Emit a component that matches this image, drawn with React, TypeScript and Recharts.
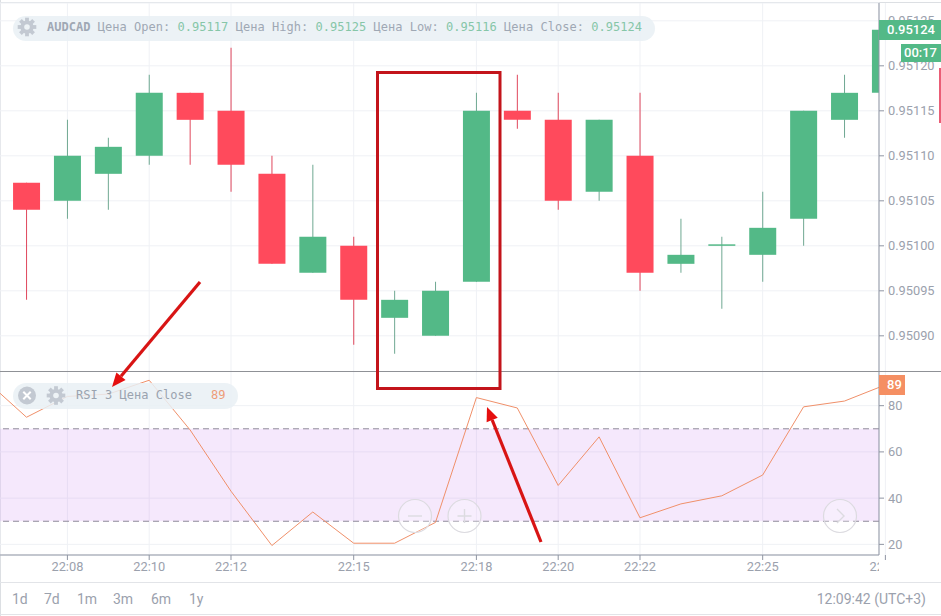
import React from "react";
import { ComposedChart, Bar, Line, XAxis, YAxis, CartesianGrid, ReferenceArea, ReferenceLine, Cell } from "recharts";

const candleIndex = [0, 1, 2, 3, 4, 5, 6, 7, 8, 9, 10, 11, 12, 13, 14, 15, 16, 17, 18, 19, 20, 21];
const opens = [0.95107, 0.95105, 0.95108, 0.9511, 0.95117, 0.95115, 0.95108, 0.95097, 0.951, 0.95092, 0.9509, 0.95096, 0.95115, 0.95114, 0.95106, 0.9511, 0.95098, 0.951, 0.95099, 0.95103, 0.95114, 0.95117];
const closes = [0.95104, 0.9511, 0.95111, 0.95117, 0.95114, 0.95109, 0.95098, 0.95101, 0.95094, 0.95094, 0.95095, 0.95115, 0.95114, 0.95105, 0.95114, 0.95097, 0.95099, 0.951, 0.95102, 0.95115, 0.95117, 0.95124];
const highs = [0.95107, 0.95114, 0.95112, 0.95119, 0.95117, 0.95122, 0.9511, 0.95109, 0.95101, 0.95095, 0.95096, 0.95117, 0.95119, 0.95117, 0.95114, 0.95117, 0.95103, 0.95101, 0.95106, 0.95115, 0.95119, 0.95125];
const lows = [0.95094, 0.95103, 0.95104, 0.95109, 0.95109, 0.95106, 0.95098, 0.95097, 0.95089, 0.95088, 0.9509, 0.95096, 0.95113, 0.95104, 0.95105, 0.95095, 0.95097, 0.95093, 0.95096, 0.951, 0.95112, 0.95117];

const rsiIndex = [-1, 0, 1, 2, 3, 4, 5, 6, 7, 8, 9, 10, 11, 12, 13, 14, 15, 16, 17, 18, 19, 20, 21];
const rsiValues = [91, 75, 84, 85, 91, 69.5, 43, 19.5, 34, 20.5, 20.5, 29.5, 83.5, 79, 45.5, 66.5, 31.5, 37.5, 41, 50, 79.5, 82, 89];

const timeTicks = [1, 3, 5, 8, 11, 13, 15, 18, 21];
const timeLabels = ["22:08", "22:10", "22:12", "22:15", "22:18", "22:20", "22:22", "22:25", "22:28"];
const priceTicks = [0.9509, 0.95095, 0.951, 0.95105, 0.9511, 0.95115, 0.9512, 0.95125];
const rsiTicks = [20, 40, 60, 80];
const periods = ["1d", "7d", "1m", "3m", "6m", "1y"];
const periodLeft = [12, 44, 77, 113, 151, 189];

const GREEN = "#53b987";
const RED = "#ff4a5c";
const GRID = "#eff1f5";
const AXIS = "#8f95a3";
const LABEL = "#9ba1ad";
const ORANGE = "#f0906a";
const FONT = "Roboto, sans-serif";
const MONO = "'DejaVu Sans Mono', monospace";
const X_DOMAIN: [number, number] = [-0.648, 20.844];

const candleData = candleIndex.map((i, k) => ({
  i,
  wick: [lows[k], highs[k]],
  body: [Math.min(opens[k], closes[k]), Math.max(opens[k], closes[k])],
  up: closes[k] >= opens[k],
}));
const rsiData = rsiIndex.map((i, k) => ({ i, rsi: rsiValues[k] }));

const TimeTick = (props: any) => {
  const { x, y, payload } = props;
  const label = timeLabels[timeTicks.indexOf(payload.value)];
  return (
    <g>
      <clipPath id={`tick-clip-${payload.value}`}>
        <rect x={0} y={0} width={879} height={616} />
      </clipPath>
      <text x={x} y={y + 9} textAnchor="middle" fill={LABEL} fontSize={12.8} fontFamily={FONT} clipPath={`url(#tick-clip-${payload.value})`}>
        {label}
      </text>
    </g>
  );
};

const Gear = ({ x, y }: { x: number; y: number }) => (
  <g transform={`translate(${x} ${y})`}>
    {[0, 45, 90, 135].map((a) => (
      <rect key={a} x={-1.9} y={-9.3} width={3.8} height={18.6} fill="#c3c9d2" transform={`rotate(${a})`} />
    ))}
    <circle r={6.6} fill="#c3c9d2" />
    <circle r={2.8} fill="#eef3f6" />
  </g>
);

const Arrow = ({ x1, y1, x2, y2 }: { x1: number; y1: number; x2: number; y2: number }) => {
  const a = Math.atan2(y2 - y1, x2 - x1);
  const len = 14;
  const w = 6;
  const bx = x2 - len * Math.cos(a);
  const by = y2 - len * Math.sin(a);
  const px = -Math.sin(a) * w;
  const py = Math.cos(a) * w;
  return (
    <g>
      <line x1={x1} y1={y1} x2={bx} y2={by} stroke="#d81414" strokeWidth={3.2} />
      <polygon points={`${x2},${y2} ${bx + px},${by + py} ${bx - px},${by - py}`} fill="#e50f0f" />
    </g>
  );
};

const monoBase: React.CSSProperties = { fontFamily: MONO, fontSize: 12, whiteSpace: "pre", letterSpacing: 0.03 };

export default function App() {
  return (
    <div style={{ position: "absolute", left: 0, top: 0, width: 941, height: 616, background: "#fff", overflow: "hidden", fontFamily: FONT }}>
      {/* frame */}
      <div style={{ position: "absolute", left: 0, top: 2, width: 941, height: 1, background: "#dcdfe3" }} />
      <div style={{ position: "absolute", left: 0, top: 0, width: 1, height: 616, background: "#dcdfe3" }} />
      <div style={{ position: "absolute", left: 0, top: 582, width: 941, height: 1, background: "#e2e4e8" }} />
      <div style={{ position: "absolute", left: 0, top: 614, width: 941, height: 1, background: "#e2e4e8" }} />

      {/* price pane */}
      <div style={{ position: "absolute", left: 0, top: 0 }}>
        <ComposedChart width={941} height={372} data={candleData} margin={{ top: 3, right: 0, bottom: 0, left: 0 }} barGap={0}>
          <CartesianGrid stroke={GRID} strokeWidth={1} xAxisId="body" yAxisId="p" />
          <XAxis xAxisId="body" dataKey="i" type="number" domain={X_DOMAIN} ticks={timeTicks} allowDataOverflow hide />
          <XAxis xAxisId="wick" dataKey="i" type="number" domain={X_DOMAIN} ticks={timeTicks} allowDataOverflow hide />
          <YAxis
            yAxisId="p"
            orientation="right"
            width={62}
            domain={[0.9508598, 0.9512698]}
            allowDataOverflow
            ticks={priceTicks}
            tick={{ fill: LABEL, fontSize: 12.8, fontFamily: FONT, dy: -0.7 }}
            tickFormatter={(v: number) => v.toFixed(5)}
            stroke={AXIS}
            tickSize={5}
            tickMargin={4}
            interval={0}
          />
          <Bar xAxisId="wick" yAxisId="p" dataKey="wick" barSize={1} isAnimationActive={false}>
            {candleData.map((d) => (
              <Cell key={d.i} fill={d.up ? "#6fa892" : "#e0475c"} />
            ))}
          </Bar>
          <Bar xAxisId="body" yAxisId="p" dataKey="body" barSize={27} minPointSize={1.5} isAnimationActive={false}>
            {candleData.map((d) => (
              <Cell key={d.i} fill={d.up ? GREEN : RED} />
            ))}
          </Bar>
        </ComposedChart>
      </div>

      {/* RSI pane */}
      <div style={{ position: "absolute", left: 0, top: 371 }}>
        <ComposedChart width={941} height={212} data={rsiData} margin={{ top: 0, right: 0, bottom: 0, left: 0 }}>
          <CartesianGrid stroke={GRID} strokeWidth={1} />
          <XAxis
            dataKey="i"
            type="number"
            domain={X_DOMAIN}
            ticks={timeTicks}
            interval={0}
            allowDataOverflow
            height={28}
            stroke={AXIS}
            tickSize={5}
            tick={<TimeTick />}
          />
          <YAxis
            orientation="right"
            width={62}
            domain={[15.4, 95]}
            allowDataOverflow
            ticks={rsiTicks}
            interval={0}
            tick={{ fill: LABEL, fontSize: 12.8, fontFamily: FONT }}
            stroke={AXIS}
            tickSize={5}
            tickMargin={4}
          />
          <ReferenceArea y1={30} y2={70} fill="#c77df0" fillOpacity={0.18} stroke="none" />
          <ReferenceLine y={70} stroke="#8f8a9a" strokeDasharray="6 4" strokeWidth={1} />
          <ReferenceLine y={30} stroke="#8f8a9a" strokeDasharray="6 4" strokeWidth={1} />
          <Line dataKey="rsi" type="linear" stroke={ORANGE} strokeWidth={1} dot={false} activeDot={false} isAnimationActive={false} />
        </ComposedChart>
      </div>

      {/* pane separator */}
      <div style={{ position: "absolute", left: 0, top: 371, width: 941, height: 1, background: "#8f9196" }} />

      {/* legend pills */}
      <div style={{ position: "absolute", left: 13, top: 16, width: 642, height: 25, borderRadius: 12.5, background: "rgba(233,240,244,0.85)" }} />
      <div style={{ ...monoBase, position: "absolute", left: 47, top: 20, lineHeight: "15px", color: "#9fa8b4" }}>
        <b>AUDCAD</b> Цена Open: <span style={{ color: "#86c6a8" }}>0.95117</span> Цена High: <span style={{ color: "#86c6a8" }}>0.95125</span> Цена Low: <span style={{ color: "#86c6a8" }}>0.95116</span> Цена Close: <span style={{ color: "#86c6a8" }}>0.95124</span>
      </div>
      <div style={{ position: "absolute", left: 13, top: 383, width: 225, height: 26, borderRadius: 13, background: "rgba(233,240,244,0.85)" }} />
      <div style={{ ...monoBase, position: "absolute", left: 76, top: 388, lineHeight: "15px", color: "#9aa3af" }}>
        RSI 3 Цена Close
      </div>
      <div style={{ ...monoBase, position: "absolute", left: 211, top: 388, lineHeight: "15px", color: "#ee9c78" }}>89</div>

      {/* value flags */}
      <div style={{ position: "absolute", left: 879, top: 20, width: 62, height: 20, background: GREEN, color: "#fff", fontSize: 13, fontWeight: 500, lineHeight: "20px", textAlign: "right", paddingRight: 6, boxSizing: "border-box" }}>0.95124</div>
      <div style={{ position: "absolute", left: 901, top: 44, width: 40, height: 18, background: GREEN, color: "#fff", fontSize: 13, fontWeight: 500, lineHeight: "18px", textAlign: "right", paddingRight: 4, boxSizing: "border-box" }}>00:17</div>
      <div style={{ position: "absolute", left: 879, top: 375, width: 26, height: 20, background: "#f58f63", color: "#fff", fontSize: 13, fontWeight: 500, lineHeight: "20px", textAlign: "center", paddingLeft: 5, boxSizing: "border-box" }}>89</div>
      <div style={{ position: "absolute", left: 939, top: 68, width: 2, height: 55, background: "#ea5d76" }} />

      {/* footer */}
      {periods.map((p, k) => (
        <div key={p} style={{ position: "absolute", left: periodLeft[k], top: 591, fontSize: 14, lineHeight: "17px", color: LABEL }}>{p}</div>
      ))}
      <div style={{ position: "absolute", right: 15, top: 591, fontSize: 14, lineHeight: "17px", color: LABEL }}>12:09:42 (UTC+3)</div>

      {/* annotations and controls */}
      <svg width={941} height={616} style={{ position: "absolute", left: 0, top: 0, pointerEvents: "none" }}>
        <Gear x={27} y={27} />
        <circle cx={27} cy={395.5} r={9} fill="#c3c9d2" />
        <path d="M23.3 391.8 L30.7 399.2 M30.7 391.8 L23.3 399.2" stroke="#fff" strokeWidth={2} />
        <Gear x={56} y={395.5} />

        {[415, 464.5, 840].map((cx) => (
          <circle key={cx} cx={cx} cy={516} r={16.5} fill="rgba(255,255,255,0.25)" stroke="#dcdbe0" strokeWidth={1.2} />
        ))}
        <path d="M408 516 H422" stroke="#dcdbe0" strokeWidth={1.4} />
        <path d="M457.5 516 H471.5 M464.5 509 V523" stroke="#dcdbe0" strokeWidth={1.4} />
        <path d="M837 509 L844 516 L837 523" fill="none" stroke="#dcdbe0" strokeWidth={1.4} />

        <rect x={377.5} y={72.5} width={122.5} height={316} fill="none" stroke="#c3141b" strokeWidth={3} />
        <Arrow x1={200} y1={282} x2={112} y2={387} />
        <Arrow x1={541} y1={542} x2={487} y2={407} />
      </svg>
    </div>
  );
}
